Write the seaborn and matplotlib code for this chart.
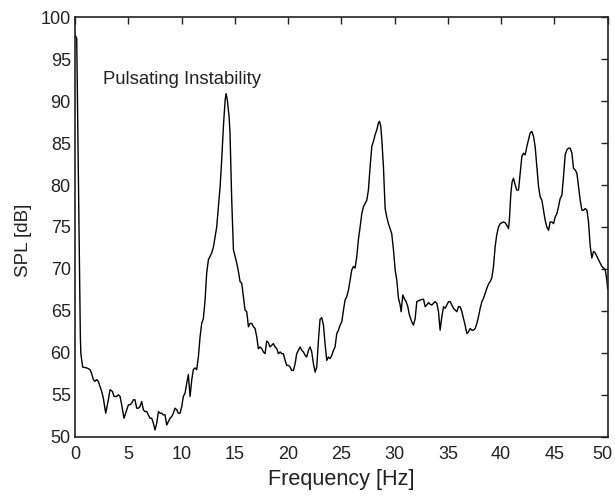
import matplotlib
matplotlib.use("Agg")
import matplotlib.pyplot as plt
import matplotlib.transforms as mtransforms
import seaborn as sns
import pandas as pd

freq_hz = [
    0.00, 0.16, 0.50, 0.55, 0.72, 1.10, 1.41, 1.57, 1.72, 1.88, 2.03, 2.19, 2.35, 2.50, 2.66, 2.88,
    3.13, 3.29, 3.51, 3.66, 3.91, 4.07, 4.23, 4.38, 4.60, 4.85, 5.01, 5.16, 5.32, 5.48, 5.63, 5.79,
    5.95, 6.10, 6.26, 6.42, 6.57, 6.73, 6.89, 7.04, 7.20, 7.36, 7.51, 7.67, 7.83, 7.98, 8.14, 8.29,
    8.45, 8.61, 8.76, 8.92, 9.08, 9.23, 9.39, 9.55, 9.70, 9.86, 10.02, 10.17, 10.33, 10.49, 10.64,
    10.80, 10.96, 11.11, 11.27, 11.42, 11.58, 11.74, 11.89, 12.05, 12.21, 12.36, 12.52, 12.68,
    12.83, 12.99, 13.15, 13.30, 13.46, 13.62, 13.77, 13.93, 14.09, 14.18, 14.30, 14.46, 14.55,
    14.71, 14.87, 15.02, 15.18, 15.34, 15.49, 15.65, 15.81, 15.96, 16.12, 16.28, 16.43, 16.59,
    16.75, 16.90, 17.06,
    17.21, 17.37, 17.53, 17.68, 17.84, 17.99, 18.15, 18.31, 18.47, 18.62, 18.78, 18.94, 19.09,
    19.25, 19.41, 19.56, 19.72, 19.87, 20.03, 20.19, 20.34, 20.50, 20.66, 20.81, 20.97, 21.13,
    21.28, 21.44, 21.60, 21.75, 21.91, 22.07, 22.22, 22.38, 22.54, 22.69, 22.85, 23.00, 23.16,
    23.32, 23.47, 23.63, 23.79, 23.94, 24.10, 24.26, 24.41, 24.57, 24.73, 24.88, 25.04, 25.20,
    25.35, 25.51, 25.67, 25.82, 25.98, 26.14, 26.29, 26.45, 26.60, 26.76, 26.92, 27.07, 27.23,
    27.39, 27.54, 27.70, 27.86, 28.01, 28.17, 28.33, 28.48, 28.58, 28.70, 28.80, 28.95, 29.11,
    29.26, 29.42, 29.58, 29.73, 29.89,
    30.05, 30.20, 30.36, 30.52, 30.61, 30.77, 30.89, 31.08, 31.24, 31.39, 31.61, 31.77, 31.93,
    32.08, 32.40, 32.71, 32.87, 33.02, 33.18, 33.33, 33.49, 33.65, 33.80, 33.96, 34.12, 34.27,
    34.43, 34.59, 34.74, 34.90, 35.06, 35.21, 35.37, 35.53, 35.84, 35.99, 36.15, 36.31, 36.46,
    36.62, 36.78, 36.93, 37.09, 37.25, 37.40, 37.56, 37.72, 37.87, 38.03, 38.19, 38.34, 38.50,
    38.66, 38.81, 38.97, 39.12, 39.28, 39.44, 39.59, 39.75, 39.91, 40.06, 40.22, 40.38, 40.53,
    40.69, 40.78, 40.91, 41.03, 41.16, 41.32, 41.47, 41.63, 41.79, 41.94, 42.10, 42.26, 42.41,
    42.57, 42.72, 42.88, 43.04, 43.19, 43.35, 43.51, 43.66, 43.82, 43.98, 44.13, 44.29, 44.45,
    44.60, 44.76, 44.92, 45.07, 45.23, 45.38, 45.54, 45.70, 45.85, 46.01, 46.17, 46.32, 46.48,
    46.64, 46.79, 46.95, 47.11, 47.26, 47.42, 47.58, 47.73, 47.89, 48.05, 48.20, 48.36, 48.51,
    48.67, 48.83, 48.98, 49.14, 49.30, 49.45, 49.61, 49.77, 49.92, 50.00,
]

spl_db = [
    97.9, 97.5, 62.0, 59.9, 58.3, 58.2, 58.0, 57.5, 56.8, 56.6, 56.8, 56.6, 56.0, 55.4, 54.6, 52.8,
    54.4, 55.6, 55.4, 54.8, 54.8, 55.0, 54.8, 53.8, 52.2, 53.2, 53.8, 53.8, 54.0, 54.4, 54.4, 53.4,
    53.4, 53.6, 54.2, 53.2, 53.0, 53.0, 52.6, 52.2, 52.2, 51.6, 50.8, 51.6, 53.0, 52.8, 52.8, 52.6,
    52.6, 51.4, 51.8, 52.2, 52.4, 52.8, 53.4, 53.2, 52.8, 52.8, 53.6, 54.8, 55.2, 56.4, 57.4,
    54.8, 56.8, 58.0, 58.2, 58.0, 59.5, 61.9, 63.5, 64.1, 66.3, 69.5, 71.1, 71.5,
    71.9, 72.6, 73.8, 75.0, 77.4, 79.8, 83.0, 87.0, 90.1, 90.9, 90.1, 88.2, 86.2,
    78.2, 72.3, 71.5, 70.7, 69.7, 68.5, 68.3, 66.7, 65.1, 64.9, 63.1, 63.5, 63.5,
    63.1, 62.9, 61.9,
    60.5, 60.7, 60.5, 60.1, 59.9, 61.4, 61.2, 60.7, 60.9, 61.1, 60.7, 60.5, 59.9,
    60.1, 59.9, 59.9, 59.1, 58.5, 58.5, 58.3, 57.9, 57.9, 58.7, 59.9, 60.3, 60.7,
    60.3, 60.1, 59.7, 59.5, 60.3, 60.7, 60.1, 58.7, 57.7, 58.3, 61.5, 64.0, 64.2,
    63.3, 61.1, 59.1, 59.5, 59.3, 59.7, 60.3, 60.7, 62.3, 62.7, 63.3, 63.7, 65.1,
    66.3, 66.7, 67.5, 68.7, 69.9, 70.3, 70.1, 71.5, 73.5, 75.0, 76.6, 77.4, 77.8,
    78.2, 79.4, 82.2, 84.6, 85.2, 86.0, 86.6, 87.4, 87.6, 87.0, 85.4, 82.2, 77.2,
    76.2, 75.4, 74.8, 74.2, 72.3,
    69.9, 68.7, 66.5, 65.7, 64.9, 66.9, 66.5, 66.1, 65.5, 64.5, 63.7, 63.3, 64.1,
    66.1, 66.3, 66.4, 65.5, 65.7, 66.0, 65.8, 65.7, 65.9, 66.1, 65.9, 64.9, 62.7,
    64.3, 65.5, 65.3, 65.7, 66.1, 66.1, 65.7, 65.3, 64.9, 65.5, 65.5, 64.9, 64.1,
    63.3, 62.3, 62.5, 62.9, 62.7, 62.7, 62.9, 63.5, 64.3, 65.3, 66.1, 66.5, 67.1,
    67.7, 68.2, 68.5, 68.9, 70.3, 72.7, 74.1, 75.0, 75.4, 75.5, 75.6, 75.5, 75.2,
    74.8, 76.0, 79.0, 80.4, 80.8, 80.0, 79.4, 79.4, 81.4, 83.4, 83.8, 83.6, 84.6,
    85.4, 86.2, 86.4, 85.8, 84.6, 82.2, 79.8, 78.6, 78.2, 77.0, 75.8, 75.0, 74.6,
    75.6, 75.6, 75.4, 76.2, 76.6, 77.4, 78.4, 78.8, 81.0, 83.6, 84.2, 84.4, 84.4,
    83.8, 82.0, 81.8, 81.4, 79.8, 78.2, 77.0, 77.0, 77.2, 77.0, 75.6, 72.7, 71.3,
    72.1, 71.9, 71.5, 71.1, 70.7, 70.3, 70.1, 69.9, 68.7, 67.6,
]

x_ticks = [0, 5, 10, 15, 20, 25, 30, 35, 40, 45, 50]
y_ticks = [50, 55, 60, 65, 70, 75, 80, 85, 90, 95, 100]
annotation = "Pulsating Instability"

sns.set_style("white")
plt.rcParams['font.family'] = ['Liberation Sans', 'DejaVu Sans']

df = pd.DataFrame({"Frequency": freq_hz, "SPL": spl_db})

fig = plt.figure(figsize=(6.15, 4.98), dpi=100)
ax = fig.add_axes([75 / 615, 1 - 436.7 / 498, (607.7 - 75) / 615, (436.7 - 17.3) / 498])

sns.lineplot(data=df, x="Frequency", y="SPL", ax=ax, color="black", linewidth=1.0,
             estimator=None, sort=False)

ax.set_xlim(0, 50)
ax.set_ylim(50, 100)
ax.set_xticks(x_ticks)
ax.set_yticks(y_ticks)
ax.tick_params(direction="in", top=True, right=True, length=5, width=1.0,
               labelsize=13, colors="#222222")
ax.tick_params(axis="x", pad=7)
ax.tick_params(axis="y", pad=3)
for s in ax.spines.values():
    s.set_visible(True)
    s.set_linewidth(1.2)
    s.set_color("#222222")

# shift the last x tick label slightly left, as in the reference
last = ax.get_xticklabels()[-1]
last.set_transform(last.get_transform() +
                   mtransforms.ScaledTranslation(-5 / 100, 0, fig.dpi_scale_trans))

ax.set_xlabel("Frequency [Hz]", fontsize=15.6, color="#222222")
ax.set_ylabel("SPL [dB]", fontsize=13.6, color="#222222")
ax.xaxis.set_label_coords(0.5, -0.078)
ax.yaxis.set_label_coords(-0.081, 0.469)
ax.text(2.63, 92.1, annotation, fontsize=13.3, color="#222222", va="baseline", ha="left")

fig.savefig("out.png", dpi=100)
